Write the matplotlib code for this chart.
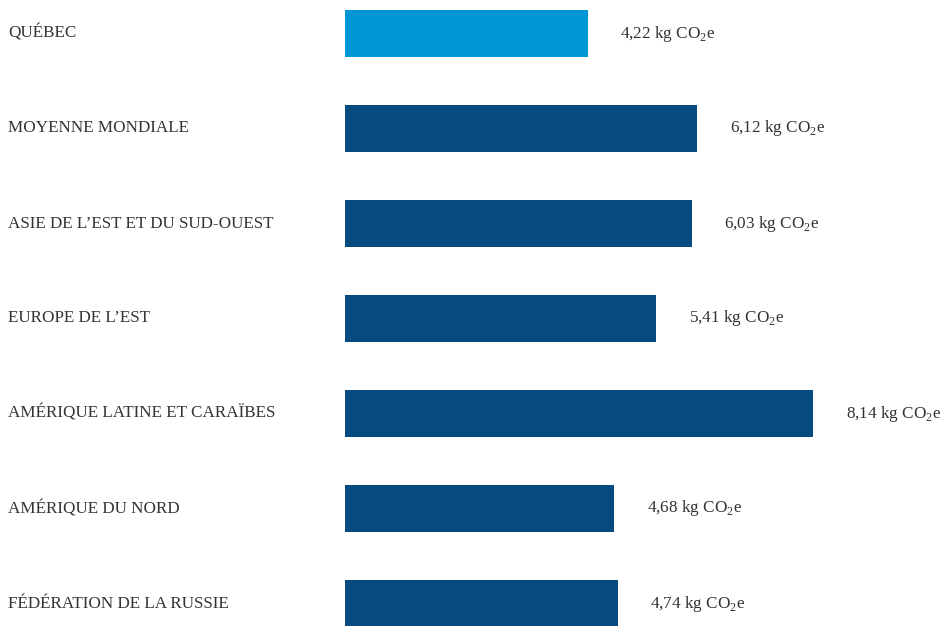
import matplotlib
matplotlib.use('Agg')
import matplotlib.pyplot as plt
import matplotlib.transforms as mtransforms

plt.rcParams['font.family'] = 'Liberation Serif'
plt.rcParams['mathtext.fontset'] = 'custom'
plt.rcParams['mathtext.rm'] = 'Liberation Serif'

regions = ['QUÉBEC', 'MOYENNE MONDIALE', 'ASIE DE L\u2019EST ET DU SUD-OUEST',
           'EUROPE DE L\u2019EST', 'AMÉRIQUE LATINE ET CARAÏBES',
           'AMÉRIQUE DU NORD', 'FÉDÉRATION DE LA RUSSIE']
values = [4.22, 6.12, 6.03, 5.41, 8.14, 4.68, 4.74]
value_labels = ['4,22', '6,12', '6,03', '5,41', '8,14', '4,68', '4,74']

bar_colors = ['#0096d3'] + ['#064b80'] * (len(values) - 1)
text_color = '#333333'

fig = plt.figure(figsize=(9.42, 6.26), dpi=100)
ax = fig.add_axes([345 / 942, 0, 1 - 345 / 942, 1])

ypos = list(range(len(values)))
ax.barh(ypos, values, height=0.49, color=bar_colors)

ax.set_xlim(0, (942 - 345) / 57.5)
ax.set_ylim((626 - 33.5) / 95, -33.5 / 95)
ax.axis('off')

trans = mtransforms.blended_transform_factory(fig.transFigure, ax.transData)
for y, name in zip(ypos, regions):
    ax.text(8 / 942, y, name, transform=trans, ha='left', va='center',
            fontsize=12.3, color=text_color)

for y, v, lab in zip(ypos, values, value_labels):
    ax.annotate(lab + r' kg CO$_\mathrm{2}$e', xy=(v, y), xytext=(23.5, 0),
                textcoords='offset points', ha='left', va='center',
                fontsize=12.3, color=text_color, annotation_clip=False)

fig.savefig('out.png', dpi=100)
